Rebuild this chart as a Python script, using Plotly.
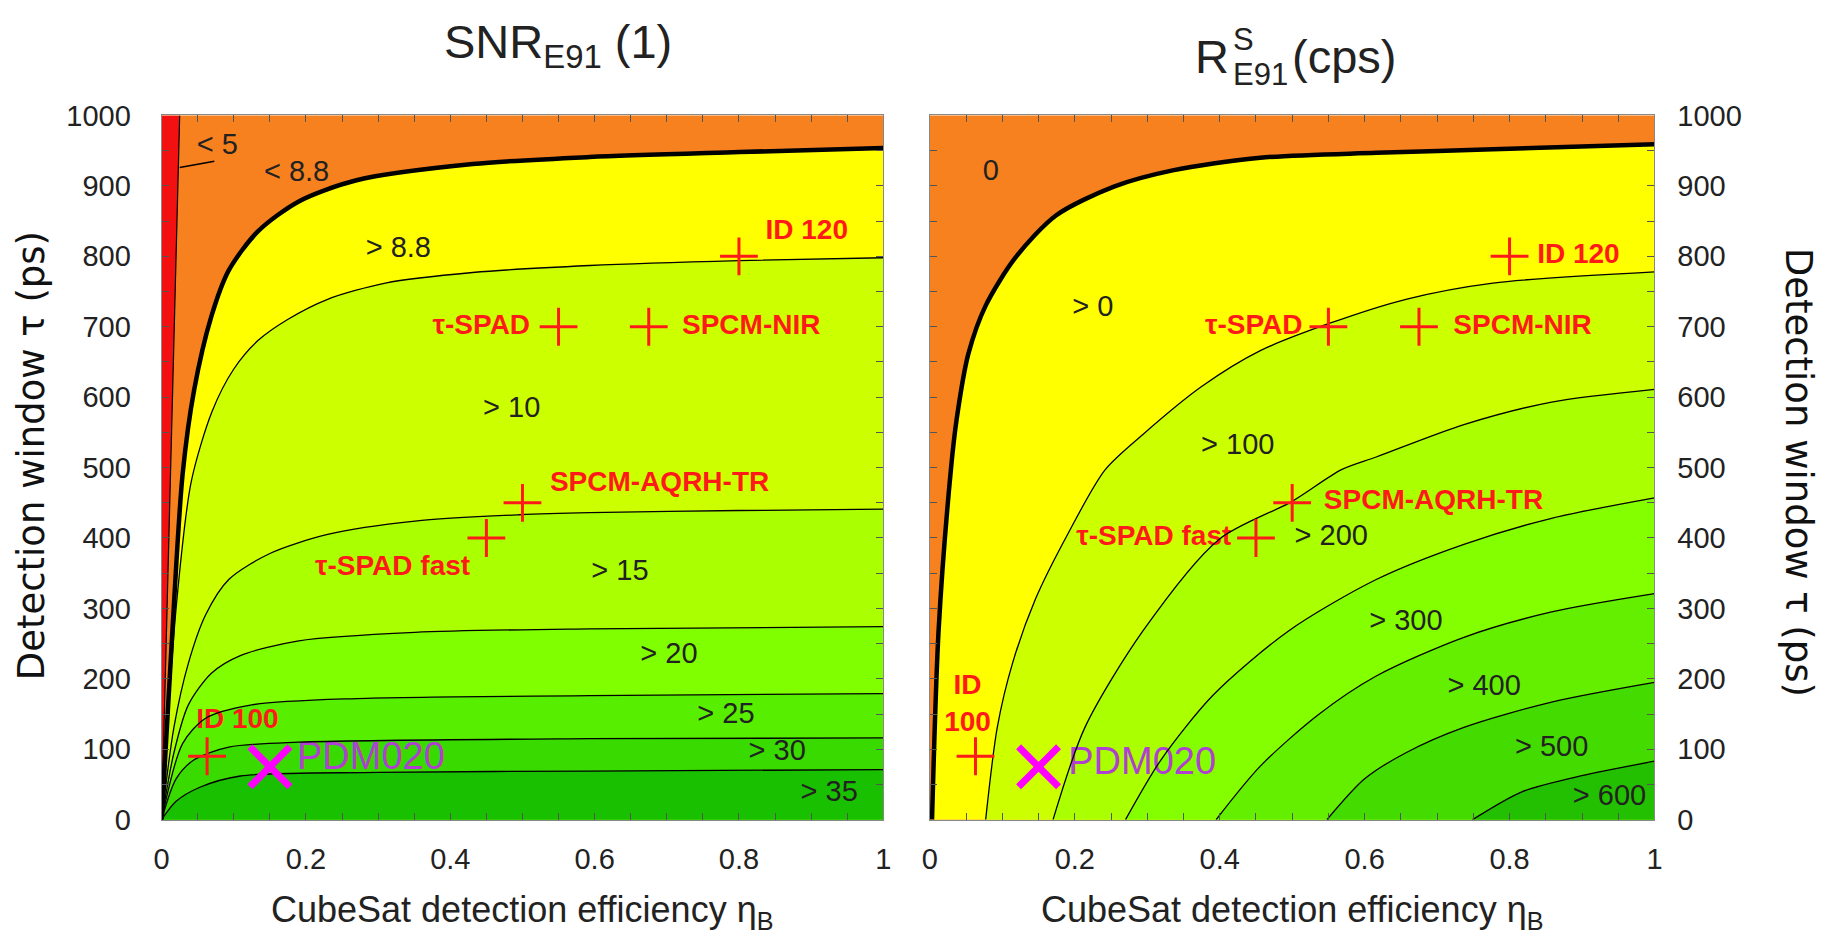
import plotly.graph_objects as go

# ---------------- data ----------------
# SNR_E91 contour lines: (eta_B, tau [ps]) pairs
snr_levels = ["8.8", "10", "15", "20", "25", "30", "35"]
snr_eta = {
    "8.8": [0, 0.015, 0.029, 0.045, 0.069, 0.093, 0.133, 0.19, 0.27, 0.431, 0.593, 0.8, 1.0],
    "10":  [0, 0.02, 0.041, 0.07, 0.1, 0.133, 0.174, 0.23, 0.31, 0.431, 0.593, 0.8, 1.0],
    "15":  [0, 0.017, 0.037, 0.061, 0.093, 0.15, 0.23, 0.351, 0.496, 0.593, 0.8, 1.0],
    "20":  [0, 0.017, 0.037, 0.069, 0.109, 0.19, 0.351, 0.593, 1.0],
    "25":  [0, 0.029, 0.061, 0.125, 0.27, 0.593, 1.0],
    "30":  [0, 0.02, 0.045, 0.093, 0.19, 0.593, 1.0],
    "35":  [0, 0.02, 0.053, 0.109, 0.3, 0.593, 1.0],
}
snr_tau = {
    "8.8": [0, 270, 490, 610, 715, 780, 835, 878, 908, 931, 941, 948, 954],
    "10":  [0, 300, 480, 580, 640, 680, 710, 739, 762, 777, 787, 794, 798],
    "15":  [0, 131, 222, 291, 341, 378, 405, 424, 433, 436, 439, 441],
    "20":  [0, 95, 163, 208, 233, 254, 266, 271, 274],
    "25":  [0, 108, 144, 163, 172, 176, 179],
    "30":  [0, 58, 85, 103, 110, 115, 116],
    "35":  [0, 26, 46, 62, 67, 69, 71],
}
snr5_eta = [0, 0.012, 0.025]
snr5_tau = [0, 500, 1000]
snr5_tick_eta = [0.025, 0.073]
snr5_tick_tau = [926, 935]

# R^S_E91 contour lines (cps)
rate_levels = ["0", "100", "200", "300", "400", "500", "600"]
rate_eta = {
    "0":   [0.003, 0.012, 0.029, 0.037, 0.053, 0.077, 0.118, 0.174, 0.254, 0.335, 0.456, 0.616, 0.777, 1.0],
    "100": [0.077, 0.093, 0.114, 0.146, 0.19, 0.242, 0.294, 0.375, 0.456, 0.552, 0.657, 0.777, 1.0],
    "200": [0.170, 0.214, 0.294, 0.399, 0.5, 0.568, 0.616, 0.737, 0.858, 1.0],
    "300": [0.270, 0.319, 0.391, 0.495, 0.616, 0.737, 0.858, 1.0],
    "400": [0.395, 0.456, 0.536, 0.616, 0.737, 0.858, 1.0],
    "500": [0.548, 0.600, 0.657, 0.737, 0.858, 1.0],
    "600": [0.749, 0.817, 0.898, 1.0],
}
rate_tau = {
    "0":   [0, 268, 497, 569, 661, 730, 798, 858, 899, 922, 940, 947, 952, 959],
    "100": [0, 131, 222, 314, 405, 497, 547, 615, 666, 705, 739, 762, 778],
    "200": [0, 131, 268, 398, 452, 497, 515, 561, 593, 611],
    "300": [0, 85, 177, 268, 341, 391, 428, 457],
    "400": [0, 76, 149, 204, 259, 295, 321],
    "500": [0, 58, 95, 131, 167, 195],
    "600": [0, 39.5, 62, 83],
}

# detectors
det_names = ["ID 120", "τ-SPAD", "SPCM-NIR", "SPCM-AQRH-TR", "τ-SPAD fast", "ID 100"]
det_eta = [0.80, 0.55, 0.675, 0.50, 0.45, 0.063]
det_tau = [800, 700, 700, 450, 400, 90]
pdm_name = "PDM020"
pdm_eta = 0.15
pdm_tau = 75

x_ticks = [0, 0.2, 0.4, 0.6, 0.8, 1]
x_ticktext = ["0", "0.2", "0.4", "0.6", "0.8", "1"]
y_ticks = [0, 100, 200, 300, 400, 500, 600, 700, 800, 900, 1000]

# ---------------- styling ----------------
W, H = 1831, 939
ORANGE = "#F7801F"
RED = "#F21010"
YELLOW = "#FFFF00"
snr_colors = {"8.8": YELLOW, "10": "#CCFF00", "15": "#AAFF00", "20": "#80FF00",
              "25": "#58EE00", "30": "#38DA00", "35": "#18C000"}
rate_colors = {"0": YELLOW, "100": "#CCFF00", "200": "#AAFF00", "300": "#84FF00",
               "400": "#64EE00", "500": "#44DC00", "600": "#22C000"}
LBL_RED = "#FF1A1A"
MAGENTA = "#FF00FF"
PURPLE = "#B040D0"
SANS = "Liberation Sans, Arial, sans-serif"
WIDE = "DejaVu Sans, Verdana, sans-serif"

fig = go.Figure()


def add_panel(levels, etas, taus, colors, xa, ya):
    for lv in levels:
        fig.add_trace(go.Scatter(
            x=etas[lv], y=taus[lv], xaxis=xa, yaxis=ya, mode="lines",
            line=dict(width=0, shape="spline", smoothing=0.8),
            fill="tozeroy", fillcolor=colors[lv], hoverinfo="skip", showlegend=False))


def add_lines(levels, etas, taus, xa, ya, thick_level):
    for lv in levels:
        fig.add_trace(go.Scatter(
            x=etas[lv], y=taus[lv], xaxis=xa, yaxis=ya, mode="lines",
            line=dict(color="black", width=4.5 if lv == thick_level else 1.3,
                      shape="spline", smoothing=0.8),
            hoverinfo="skip", showlegend=False))


def add_text(xs, ys, texts, xa, ya, color, family, size, weight="normal"):
    fig.add_trace(go.Scatter(
        x=xs, y=ys, text=texts, mode="text", xaxis=xa, yaxis=ya,
        textposition="middle center",
        textfont=dict(color=color, family=family, size=size, weight=weight),
        hoverinfo="skip", showlegend=False))


# ---- left panel: SNR ----
add_panel(snr_levels, snr_eta, snr_tau, snr_colors, "x", "y")
fig.add_trace(go.Scatter(x=snr5_eta, y=snr5_tau, mode="lines", fill="tozerox",
                         fillcolor=RED, line=dict(width=0), xaxis="x", yaxis="y",
                         hoverinfo="skip", showlegend=False))

# contour value labels
add_text([0.077, 0.187, 0.328, 0.485, 0.635, 0.703, 0.782, 0.853, 0.925],
         [955, 917, 810, 582, 350, 233, 148, 95, 37],
         ["< 5", "< 8.8", "> 8.8", "> 10", "> 15", "> 20", "> 25", "> 30", "> 35"],
         "x", "y", "#222", SANS, 29)
# detector labels
add_text([0.894, 0.443, 0.817, 0.69, 0.32, 0.105],
         [834, 700, 700, 476, 358, 140],
         det_names, "x", "y", LBL_RED, SANS, 28, "bold")
add_text([0.29], [85], [pdm_name], "x", "y", PURPLE, SANS, 38)

fig.add_trace(go.Scatter(x=snr5_eta, y=snr5_tau, mode="lines", xaxis="x", yaxis="y",
                         line=dict(color="black", width=1.2), hoverinfo="skip", showlegend=False))
fig.add_trace(go.Scatter(x=snr5_tick_eta, y=snr5_tick_tau, mode="lines", xaxis="x", yaxis="y",
                         line=dict(color="black", width=1.5), hoverinfo="skip", showlegend=False))
add_lines(snr_levels, snr_eta, snr_tau, "x", "y", "8.8")

# ---- right panel: rate ----
add_panel(rate_levels, rate_eta, rate_tau, rate_colors, "x2", "y2")
add_text([0.084, 0.225, 0.425, 0.554, 0.657, 0.765, 0.858, 0.938],
         [919, 725, 530, 400, 280, 188, 101, 31],
         ["0", "> 0", "> 100", "> 200", "> 300", "> 400", "> 500", "> 600"],
         "x2", "y2", "#222", SANS, 29)
add_text([0.895, 0.447, 0.818, 0.695, 0.309, 0.052],
         [800, 700, 700, 451, 400, 162],
         det_names[:5] + ["ID<br>100"],
         "x2", "y2", LBL_RED, SANS, 28, "bold")
add_text([0.293], [78], [pdm_name], "x2", "y2", PURPLE, SANS, 38)
add_lines(rate_levels, rate_eta, rate_tau, "x2", "y2", "0")

# ---- detector markers on both panels ----
for xa, ya in (("x", "y"), ("x2", "y2")):
    fig.add_trace(go.Scatter(
        x=det_eta, y=det_tau, mode="markers", xaxis=xa, yaxis=ya,
        marker=dict(symbol="cross-thin", size=27, line=dict(width=3, color=LBL_RED)),
        hoverinfo="skip", showlegend=False))
    fig.add_trace(go.Scatter(
        x=[pdm_eta], y=[pdm_tau], mode="markers", xaxis=xa, yaxis=ya,
        marker=dict(symbol="x-thin", size=40, line=dict(width=7, color=MAGENTA)),
        hoverinfo="skip", showlegend=False))

# ---------------- layout ----------------
tickfont = dict(family=SANS, size=29, color="#222")
ydom = [1 - 832 / H, 1 - 103 / H]


def xax(dom, anchor):
    return dict(domain=dom, range=[0, 1], anchor=anchor, tickvals=x_ticks, ticktext=x_ticktext,
                ticks="inside", ticklen=7, tickcolor="#555", tickwidth=1,
                minor=dict(ticks="inside", dtick=0.05, ticklen=7, tickcolor="#555"),
                showline=True, linecolor="#888", linewidth=1, mirror="allticks",
                showgrid=False, zeroline=False, tickfont=tickfont, ticklabelstandoff=14,
                fixedrange=True)


def yax(anchor, side, standoff):
    return dict(domain=ydom, range=[0, 1000], anchor=anchor, side=side, tickvals=y_ticks,
                ticks="inside", ticklen=7, tickcolor="#555", tickwidth=1,
                minor=dict(ticks="inside", dtick=50, ticklen=7, tickcolor="#555"),
                showline=True, linecolor="#888", linewidth=1, mirror="allticks",
                showgrid=False, zeroline=False, tickfont=tickfont, ticklabelstandoff=standoff,
                fixedrange=True)


fig.update_layout(
    width=W, height=H, margin=dict(l=0, r=0, t=0, b=0),
    paper_bgcolor="white", plot_bgcolor=ORANGE,
    xaxis=xax([155 / W, 883 / W], "y"),
    yaxis=yax("x", "left", 24),
    xaxis2=xax([930 / W, 1661 / W], "y2"),
    yaxis2=yax("x2", "right", 16),
    showlegend=False,
)


def paper_text(text, x, y, size, family=SANS, xanchor="center", angle=0, color="#222"):
    return dict(x=x / W, y=1 - y / H, xref="paper", yref="paper", showarrow=False,
                text=text, font=dict(family=family, size=size, color=color),
                xanchor=xanchor, yanchor="middle", textangle=angle, borderpad=0)


ann = [paper_text("SNR<sub>E91</sub> (1)", 555, 30, 47)]
# rate title built from pieces so the superscript S stacks above the subscript E91
ann.append(paper_text("R", 1233, 42, 47, xanchor="right"))
ann.append(paper_text("S", 1235, 24, 31, xanchor="left"))
ann.append(paper_text("E91", 1235, 61, 31, xanchor="left"))
ann.append(paper_text("(cps)", 1294, 42, 47, xanchor="left"))
for cx in (519, 1295):
    ann.append(paper_text("CubeSat detection efficiency η<sub>B</sub>", cx, 928, 36))
ann.append(paper_text("Detection window τ (ps)", 24, 455, 37, family=WIDE, angle=-90, color="#111"))
ann.append(paper_text("Detection window τ (ps)", 1806, 472, 37, family=WIDE, angle=90, color="#111"))
fig.update_layout(annotations=ann)

fig.write_html("out.html")
